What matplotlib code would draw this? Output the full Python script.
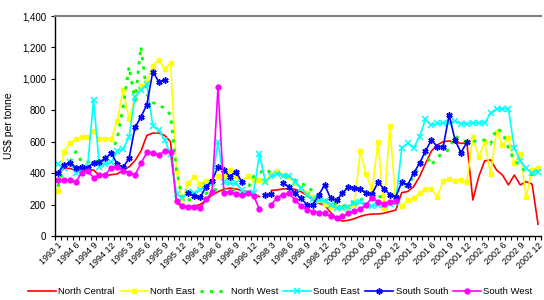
import numpy as np
import matplotlib.pyplot as plt

nan = np.nan

months = ([("1993", 1)] + [("1994", m) for m in range(4, 13)]
          + [(y, m) for y in ["1995", "1996", "1998", "2000", "2001", "2002"]
             for m in range(1, 13)])
labels = ["%s %d" % (y, m) for y, m in months]

# 1993/94, 1995, 1996, 1998, 2000, 2001, 2002
north_central = [390, 430, 430, 420, 410, 420, 420, 385, 385, 390,
                 395, 420, 440, 480, 540, 640, 655, 655, 640, 600, 210, 187,
                 187, 190, 200, 229, 261, 282, 297, 305, 300, 290, 280, 270,
                 250, nan, 290, 293, 300, 300, 297, 282, 260, 229, 208, 197,
                 150, 112, 95, 100, 110, 125, 135, 140, 140, 145, 155, 165,
                 276, 283, 314, 377, 460, 540, 580, 600, 605, 595, 590, 590,
                 229, 378, 479, 484, 420, 388, 325, 388, 325, 346, 330, 75]
north_east = [286, 537, 590, 617, 630, 628, 668, 616, 620, 617,
              732, 929, 745, 880, 955, 980, 1084, 1120, 1063, 1099, 409, 233,
              335, 378, 331, 352, 335, 380, 380, 420, 382, 346, 380, 356,
              356, 350, 390, 416, 388, 378, 335, 314, 271, 250, 230, 205,
              187, 182, 182, 182, 197, 540, 392, 293, 600, 176, 700, 215,
              193, 229, 240, 271, 301, 297, 250, 350, 363, 352, 356, 346,
              628, 505, 596, 395, 664, 579, 622, 466, 522, 250, 420, 430]
north_west = [314, 430, 470, 537, 470, 470, 480, 470, 500, 520,
              620, 820, 1078, 860, 1205, 900, 850, 830, 815, 770, 420, 233,
              230, 230, 250, 270, 290, 300, 300, 300, 290, 280, 300, 380,
              400, 427, 400, 395, 390, 378, 356, 330, 325, 280, 250, 230,
              220, 200, 190, 200, 220, 230, 240, 240, 250, 250, 260, 280,
              300, 320, 380, 440, 530, 450, 500, 530, 550, 636, 611, 600,
              600, 610, 611, 585, 685, 660, 560, 480, 450, 400, 390, 400]
south_east = [458, 431, 473, 399, 420, 441, 866, 440, 460, 470,
              540, 555, 632, 886, 929, 965, 700, 675, 611, 520, 270, 240,
              282, 271, 293, 320, 335, 600, 346, 335, 335, 293, 271, 275,
              522, 346, 380, 395, 385, 382, 346, 303, 261, 233, 229, 225,
              197, 176, 176, 187, 208, 215, 200, 190, 200, 195, 205, 215,
              558, 590, 560, 632, 742, 706, 716, 720, 720, 730, 715, 715,
              720, 720, 720, 780, 810, 810, 810, 560, 480, 430, 400, 410]
south_south = [403, 452, 467, 435, 437, 435, 467, 471, 494, 528,
               458, 437, 494, 692, 757, 836, 1046, 982, 992, nan, nan, nan,
               272, 255, 246, 314, 350, 441, 420, 378, 410, 346, nan, nan,
               nan, 261, 267, nan, 335, 314, 271, 240, 199, 199, 261, 325,
               240, 227, 271, 314, 305, 300, 275, 267, 342, 300, 263, 250,
               342, 325, 399, 462, 540, 611, 569, 569, 770, 611, 530, 598,
               nan, nan, nan, nan, nan, nan, nan, nan, nan, nan, nan, nan]
south_west = [356, 356, 356, 342, 403, 416, 371, 390, 390, 435,
              441, 416, 403, 388, 462, 532, 530, 515, 540, 536, 225, 190,
              187, 187, 176, 233, 282, 946, 275, 282, 267, 261, 271, 256,
              170, nan, 200, 245, 263, 272, 229, 191, 168, 155, 148, 144,
              125, 115, 125, 144, 160, 170, 200, 244, 217, 206, 217, 221,
              nan, nan, nan, nan, nan, nan, nan, nan, nan, nan, nan, nan,
              nan, nan, nan, nan, nan, nan, nan, nan, nan, nan, nan, nan]

plt.rcParams['font.family'] = ['Liberation Sans', 'DejaVu Sans']

fig = plt.figure(figsize=(5.44, 3.0), dpi=100)
ax = fig.add_axes([55 / 544, 1 - 236 / 300, 486 / 544, 220 / 300])

x = np.arange(len(labels))
ax.plot(x, north_central, color='#ff0000', lw=1.2, label='North Central')
ax.plot(x, north_east, color='#ffff00', lw=1.2, marker='s', ms=3.5,
        label='North East')
ax.plot(x, north_west, color='#00ff00', lw=2.0, ls=(0, (1.2, 2.2)),
        label='North West')
ax.plot(x, south_east, color='#00ffff', lw=1.2, marker='x', ms=4.5, mew=1.1,
        label='South East')
ax.plot(x, south_south, color='#0000ff', lw=1.2, marker=(6, 2, 0), ms=4.5,
        mew=1.1, label='South South')
ax.plot(x, south_west, color='#ff00ff', lw=1.2, marker='o', ms=3.5,
        label='South West')

ax.set_xlim(-0.5, len(labels) - 0.5)
ax.set_ylim(0, 1400)
ax.set_yticks(np.arange(0, 1401, 200))
ax.set_yticklabels(["{:,}".format(v) for v in range(0, 1401, 200)], fontsize=7)
ax.set_xticks(np.arange(-0.5, len(labels), 1), minor=True)
ax.set_xticks(x[::3])
ax.set_xticklabels(labels[::3], rotation=45, ha='right', rotation_mode='anchor',
                   fontsize=6.5)
ax.tick_params(axis='x', which='both', length=3, width=0.8)
ax.tick_params(axis='x', which='major', length=0)
ax.tick_params(axis='y', length=3, width=0.8)
ax.set_ylabel("US$ per tonne", fontsize=7.5)
ax.yaxis.set_label_coords(-0.085, 0.5)
ax.spines['right'].set_visible(False)
ax.spines['top'].set_color('#808080')
ax.spines['top'].set_linewidth(1.5)
ax.spines['left'].set_linewidth(1)
ax.spines['bottom'].set_linewidth(1)

fig.legend(loc='lower center', ncol=6, fontsize=6.8, frameon=False,
           bbox_to_anchor=(0.515, -0.015), handlelength=3.0, columnspacing=0.5,
           handletextpad=0.25)

fig.savefig("out.png", dpi=100)
